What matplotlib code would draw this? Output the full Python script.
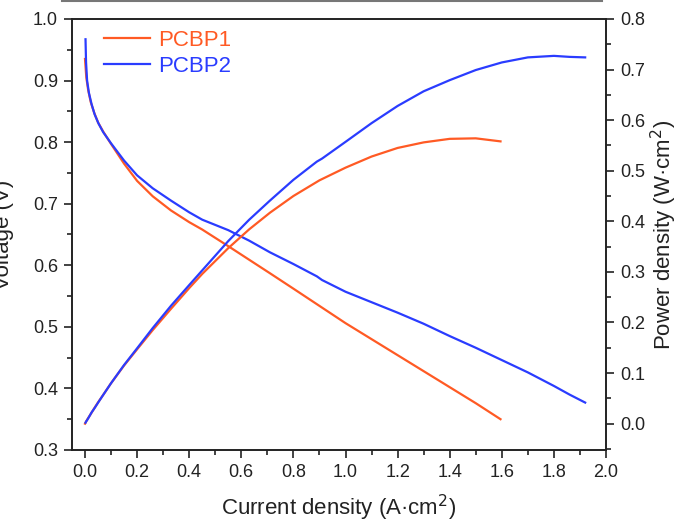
import matplotlib
matplotlib.use("Agg")
import matplotlib.pyplot as plt
from matplotlib.lines import Line2D
from matplotlib.ticker import MultipleLocator

plt.rcParams['font.family'] = ['Liberation Sans', 'DejaVu Sans']

# Polarization data: current density (A/cm2), cell voltage (V), power density (W/cm2)
pcbp1_current = [0.0, 0.005, 0.012, 0.022, 0.035, 0.05, 0.07, 0.10, 0.15, 0.20, 0.26, 0.33,
                 0.40, 0.45, 0.55, 0.63, 0.71, 0.80, 0.90, 1.00, 1.10, 1.20, 1.30,
                 1.40, 1.50, 1.595]
pcbp1_voltage = [0.935, 0.905, 0.885, 0.865, 0.848, 0.832, 0.817, 0.797, 0.765, 0.737, 0.712, 0.689,
                 0.670, 0.658, 0.631, 0.609, 0.587, 0.562, 0.534, 0.506, 0.480, 0.454, 0.428,
                 0.402, 0.376, 0.350]
pcbp1_power = [0.000, 0.005, 0.011, 0.019, 0.030, 0.042, 0.057, 0.080, 0.115, 0.147, 0.185, 0.227,
               0.268, 0.296, 0.347, 0.384, 0.417, 0.450, 0.481, 0.506, 0.528, 0.545, 0.556,
               0.563, 0.564, 0.558]

pcbp2_current = [0.002, 0.004, 0.008, 0.015, 0.025, 0.037, 0.052, 0.07, 0.10, 0.15, 0.20, 0.26,
                 0.33, 0.40, 0.45, 0.55, 0.63, 0.71, 0.80, 0.89, 0.91, 1.00, 1.10,
                 1.20, 1.30, 1.40, 1.50, 1.60, 1.70, 1.80, 1.86, 1.92]
pcbp2_voltage = [0.967, 0.930, 0.900, 0.880, 0.862, 0.845, 0.830, 0.816, 0.798, 0.770, 0.746, 0.725,
                 0.705, 0.686, 0.674, 0.657, 0.640, 0.621, 0.602, 0.582, 0.576, 0.557, 0.540,
                 0.523, 0.505, 0.485, 0.466, 0.446, 0.426, 0.404, 0.390, 0.377]
pcbp2_power = [0.002, 0.004, 0.007, 0.013, 0.022, 0.031, 0.043, 0.057, 0.080, 0.116, 0.149, 0.189,
               0.233, 0.274, 0.303, 0.361, 0.403, 0.441, 0.482, 0.518, 0.524, 0.557, 0.594,
               0.628, 0.657, 0.679, 0.699, 0.714, 0.724, 0.727, 0.725, 0.724]

labels = ["PCBP1", "PCBP2"]
colors = ["#FF5A24", "#2A3CFF"]

fig = plt.figure(figsize=(6.79, 5.26), dpi=100)
ax = fig.add_axes([0.106, 0.1445, 0.7865, 0.8195])
ax2 = ax.twinx()

lw = 1.6
ax.plot(pcbp1_current, pcbp1_voltage, color=colors[0], lw=lw, label=labels[0])
ax.plot(pcbp2_current, pcbp2_voltage, color=colors[1], lw=lw, label=labels[1])
ax2.plot(pcbp1_current, pcbp1_power, color=colors[0], lw=lw)
ax2.plot(pcbp2_current, pcbp2_power, color=colors[1], lw=lw)

ax.set_xlim(-0.05, 2.0)
ax.set_ylim(0.3, 1.0)
ax2.set_ylim(-0.052, 0.8)

ax.xaxis.set_major_locator(MultipleLocator(0.2))
ax.xaxis.set_minor_locator(MultipleLocator(0.1))
ax.yaxis.set_major_locator(MultipleLocator(0.1))
ax.yaxis.set_minor_locator(MultipleLocator(0.05))
ax2.yaxis.set_major_locator(MultipleLocator(0.1))
ax2.yaxis.set_minor_locator(MultipleLocator(0.05))

for a in (ax, ax2):
    for s in a.spines.values():
        s.set_linewidth(1.2)
        s.set_color("#222222")
    a.tick_params(which='major', direction='out', length=6, width=1.2, pad=4,
                  labelsize=13, colors="#222222", labelcolor="#222222")
    a.tick_params(which='minor', direction='out', length=3.5, width=1.2, colors="#222222")

ax.xaxis.set_major_formatter(plt.FormatStrFormatter('%.1f'))
ax.yaxis.set_major_formatter(plt.FormatStrFormatter('%.1f'))
ax2.yaxis.set_major_formatter(plt.FormatStrFormatter('%.1f'))

ax.set_xlabel("Current density (A·cm$^2$)", fontsize=16, color="#222222")
ax.set_ylabel("Voltage (V)", fontsize=16, color="#222222")
ax2.set_ylabel("Power density (W·cm$^2$)", fontsize=16, color="#222222")
ax.xaxis.set_label_coords(0.5, -0.1)
ax.yaxis.set_label_coords(-0.108, 0.5)
ax2.yaxis.set_label_coords(1.08, 0.5)

leg = ax.legend(loc='upper left', bbox_to_anchor=(0.03, 1.01), frameon=False,
                fontsize=16, handlelength=2.1, handletextpad=0.35,
                labelspacing=0.22, borderaxespad=0.3)
for text, c in zip(leg.get_texts(), colors):
    text.set_color(c)

# thin rule along the top edge
fig.add_artist(Line2D([62 / 679, 602 / 679], [1 - 1 / 526, 1 - 1 / 526],
                      transform=fig.transFigure, color="#777777", lw=1.5))

fig.savefig("out.png", dpi=100)
